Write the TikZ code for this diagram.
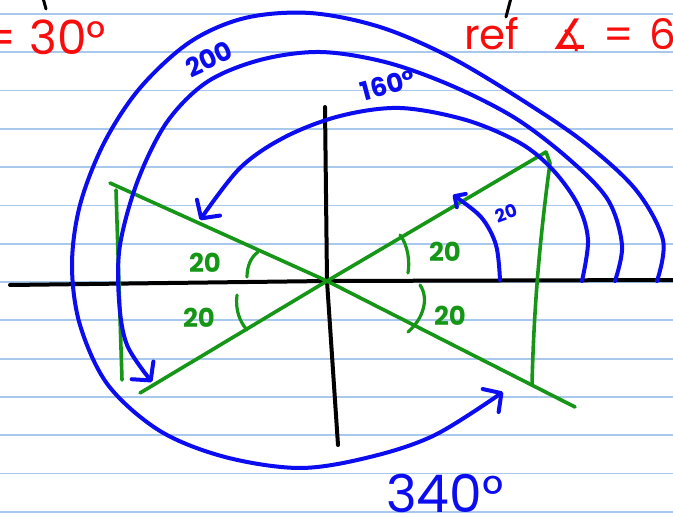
\documentclass[tikz,border=0pt]{standalone}
\usepackage{fontspec}
\setmainfont{Poppins}
\newfontfamily\symfont{DejaVu Sans}
\usetikzlibrary{arrows.meta}
\definecolor{ruleblue}{RGB}{168,200,236}
\definecolor{penblue}{RGB}{12,12,240}
\definecolor{pengreen}{RGB}{22,150,22}
\definecolor{penred}{RGB}{248,12,12}
\tikzset{
  ruled/.style={ruleblue, line width=1.8pt},
  axisline/.style={black, line width=4pt, line cap=round, line join=round},
  rayline/.style={pengreen, line width=3.6pt, line cap=round, line join=round},
  anglemark/.style={pengreen, line width=3.2pt, line cap=round},
  turnline/.style={penblue, line width=4pt, line cap=round, line join=round},
  bigbarb/.style={-{Straight Barb[length=13pt,width=28pt,line cap=round,line join=round]}},
  smallbarb/.style={-{Straight Barb[length=8pt,width=16pt,line cap=round,line join=round]}},
  greenlbl/.style={text=pengreen, font=\bfseries\fontsize{26}{26}\selectfont, inner sep=0pt},
  bluelbl/.style={text=penblue, inner sep=0pt},
  redlbl/.style={text=penred, inner sep=0pt},
}
\begin{document}
\begin{tikzpicture}[x=1pt,y=-1pt]
\useasboundingbox (0,0) rectangle (673,518);
\fill[white] (0,0) rectangle (673,518);
% ruled paper lines
\foreach \k in {0,...,13}
  \draw[ruled] (0,{14+38.3*\k}) -- (673,{14+38.3*\k});
% stray strokes at top
\coordinate (s1a) at (43,-2); \coordinate (s1b) at (46,9);
\coordinate (s2a) at (511,-2); \coordinate (s2b) at (506,17);
\draw[axisline, line width=3pt] (s1a) -- (s1b);
\draw[axisline, line width=3pt] (s2a) -- (s2b);
% axes
\coordinate (O) at (327,281);
\coordinate (xl) at (10,285); \coordinate (xr) at (676,280);
\coordinate (yt) at (325,107); \coordinate (yb) at (338,445);
\draw[axisline] (xl) -- (O) -- (xr);
\draw[axisline] (yt) -- (O) -- (yb);
% green rays
\coordinate (ul) at (110,183); \coordinate (lr) at (575,407);
\coordinate (ll) at (140,393); \coordinate (ur) at (546,152);
\draw[rayline] (ul) -- (O) -- (lr);
\draw[rayline] (ll) -- (O) -- (ur);
% green chords
\coordinate (cl1) at (116,190); \coordinate (cl2) at (122,380);
\draw[rayline] (cl1) -- (cl2);
\coordinate (cr2) at (532,385);
\draw[rayline] (ur) -- (550,163) .. controls (541,230) and (534,300) .. (cr2);
% green angle marks
\draw[anglemark] (247,277) .. controls (247,266) and (251,257) .. (258,252);
\draw[anglemark] (237,295) .. controls (235,310) and (240,322) .. (247,330);
\draw[anglemark] (400,235) .. controls (408,245) and (410,262) .. (408,273);
\draw[anglemark] (420,285) .. controls (429,298) and (424,318) .. (408,332);
% green labels
\node[greenlbl] (g1) at (205,263) {20};
\node[greenlbl] (g2) at (199,318) {20};
\node[greenlbl] (g3) at (445,252) {20};
\node[greenlbl] (g4) at (450,316) {20};
% blue turning arcs
\draw[turnline, smallbarb] plot[smooth, tension=0.55] coordinates {(500,280) (496,245) (481,217) (453,195)};
\draw[turnline, bigbarb] plot[smooth, tension=0.55] coordinates {(582,281) (588,240) (578,205) (553,170) (520,143) (466,120) (400,108) (340,116) (285,137) (240,168) (200,220)};
\draw[turnline, bigbarb] plot[smooth, tension=0.55] coordinates {(615,281) (622,245) (608,200) (570,160) (515,118) (450,85) (385,62) (320,52) (260,60) (207,82) (167,122) (138,180) (120,245) (119,300) (127,345) (152,382)};
\draw[turnline, bigbarb] plot[smooth, tension=0.55] coordinates {(657,281) (663,240) (636,190) (585,143) (522,100) (450,57) (380,27) (310,13) (245,18) (190,42) (140,88) (104,143) (80,205) (72,265) (80,325) (108,385) (160,431) (225,457) (300,468) (370,457) (435,435) (503,392)};
% blue labels
\node[bluelbl, font=\bfseries\fontsize{18}{18}\selectfont, rotate=20] (b20) at (506,213) {20};
\node[bluelbl, font=\bfseries\fontsize{26}{26}\selectfont, rotate=25] (b200) at (209,59) {200};
\node[bluelbl, font=\bfseries\fontsize{26}{26}\selectfont, rotate=15] (b160) at (388,85) {160°};
\node[bluelbl, font=\fontsize{52}{52}\selectfont, anchor=base] (b340) at (445,513) {340°};
% red labels
\node[redlbl, font=\fontsize{47}{47}\selectfont, anchor=base east] (r30) at (106,55) {= 30°};
\node[redlbl, font=\fontsize{42}{42}\selectfont, anchor=base west] (rref) at (464,50) {ref\hspace{32pt}{\symfont ∡}\hspace{14pt}=\hspace{16pt}6};
\end{tikzpicture}
\end{document}
